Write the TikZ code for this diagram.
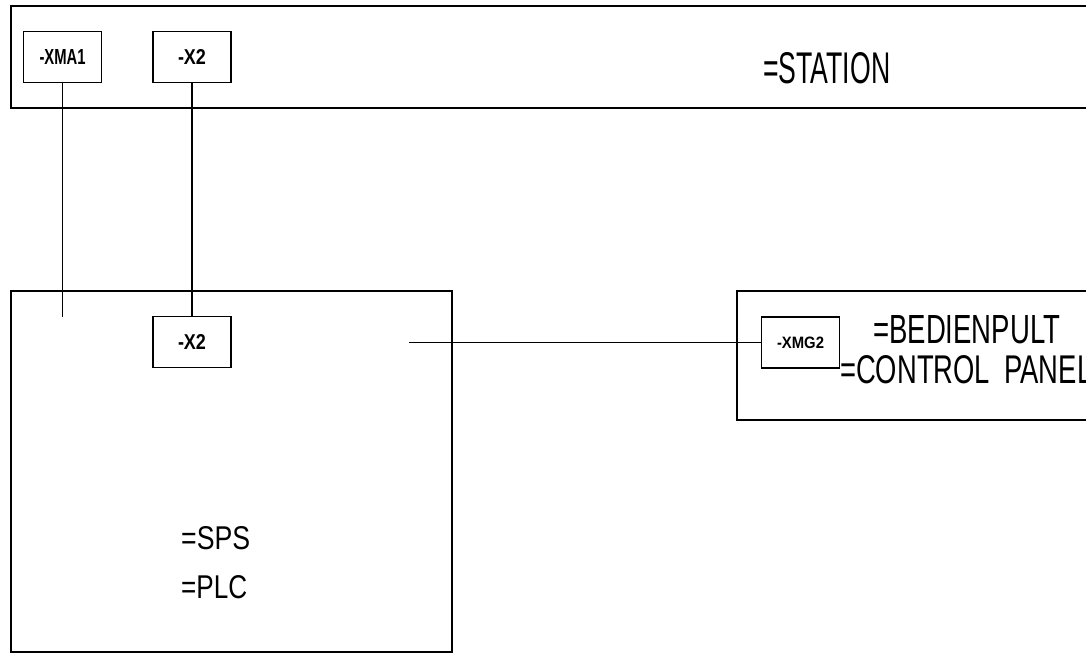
\documentclass[tikz,border=0pt]{standalone}
\usepackage{fontspec}
\newfontfamily\cad{Liberation Sans}
\newcommand\fitx[3]{\resizebox{#1pt}{#2pt}{\cad #3}}
\tikzset{
  box/.style={draw, line width=1.6pt, anchor=north west, inner sep=0pt, minimum width=#1},
  tag/.style={draw, line width=1.6pt, inner sep=0pt, minimum width=78pt, minimum height=51pt},
  lbl/.style={anchor=base west, inner sep=0pt},
  wire/.style={line width=1.6pt}
}
\begin{document}
\begin{tikzpicture}[x=1pt,y=-1pt]
\useasboundingbox (0,0) rectangle (1086,653);
\clip (0,0) rectangle (1086,653);
% frames
\node[box=1100pt, minimum height=102pt] (station) at (10,5) {};
\node[box=441pt, minimum height=361pt] (sps) at (10,290) {};
\node[box=400pt, minimum height=129pt] (panel) at (736,290) {};
% terminal tags
\node[tag] (xma1) at (62.5,57) {\fitx{46}{15}{\bfseries -XMA1}};
\node[tag] (x2top) at (192,57) {\fitx{28}{15}{\bfseries -X2}};
\node[tag] (x2in) at (192,342) {\fitx{28}{15}{\bfseries -X2}};
\node[tag] (xmg2) at (800.5,342.5) {\fitx{47}{11.5}{\bfseries -XMG2}};
% labels
\node[lbl] (tstation) at (763,83) {\fitx{127}{31}{=STATION}};
\node[lbl] (tbed) at (873,343) {\fitx{187}{28}{=BEDIENPULT}};
\node[lbl] (tcp) at (840,383) {\fitx{252}{28}{=CONTROL\hspace{0.25em} PANEL}};
\node[lbl] (tsps) at (181,549) {\fitx{69}{23}{=SPS}};
\node[lbl] (tplc) at (181,598) {\fitx{66}{23}{=PLC}};
% connectors
\coordinate (xmaend) at (62.5,317);
\coordinate (spsout) at (409,342.5);
\draw[wire] (xma1.south) -- (xmaend);
\draw[wire] (x2top.south) -- (x2in.north);
\draw[wire] (spsout) -- (xmg2.west);
\end{tikzpicture}
\end{document}
